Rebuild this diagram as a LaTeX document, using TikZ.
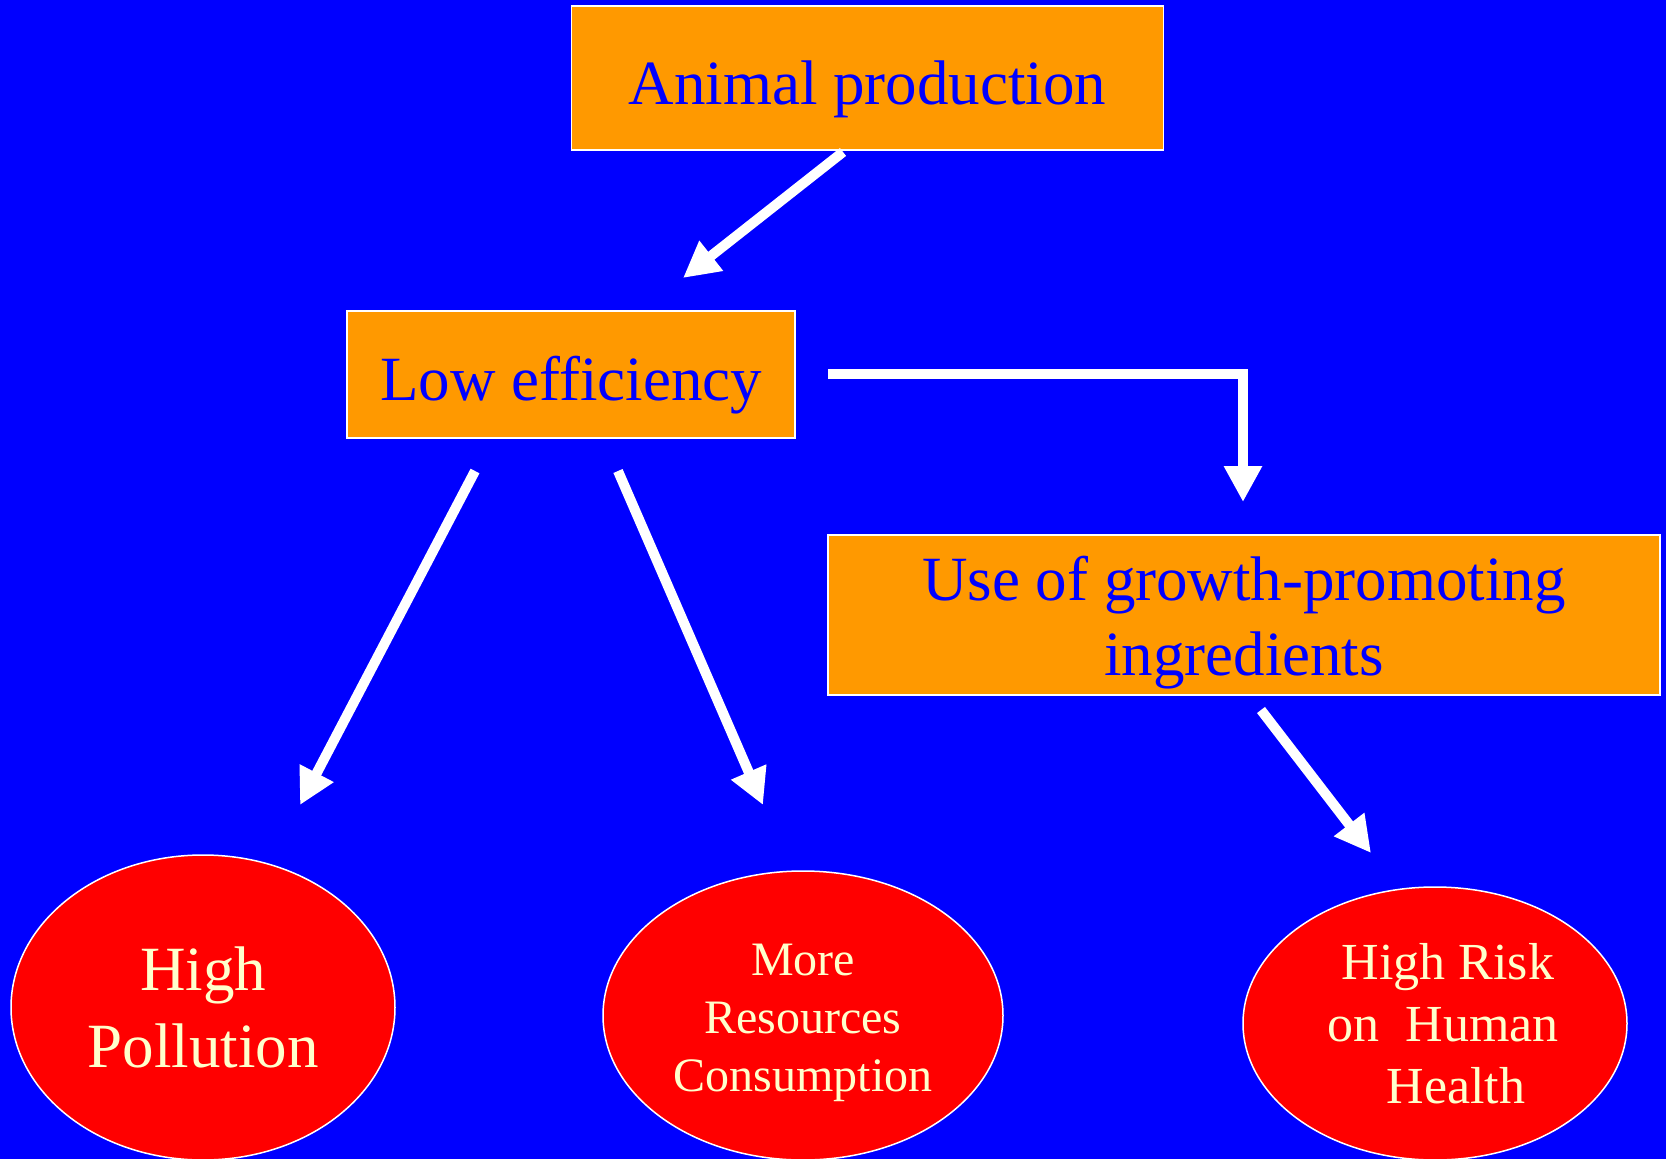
\documentclass[tikz,border=0pt]{standalone}
\usepackage{fontspec}
\setmainfont{Liberation Serif}
\usetikzlibrary{arrows.meta,shapes.geometric}
\definecolor{bg}{RGB}{0,0,255}
\definecolor{boxorange}{RGB}{255,153,0}
\definecolor{ovalred}{RGB}{255,0,0}
\definecolor{cream}{RGB}{255,255,204}
\begin{document}
\begin{tikzpicture}[x=1pt,y=-1pt,
  box/.style={draw=white, line width=1.5pt, fill=boxorange, text=bg,
    font=\fontsize{63}{75}\selectfont, inner sep=0pt, align=center},
  oval/.style={ellipse, draw=white, line width=1.5pt, fill=ovalred, text=cream,
    inner sep=0pt, align=center},
  arr/.style={draw=white, line width=10pt, -{Triangle[length=36pt,width=36pt]}}]
\fill[bg] (0,0) rectangle (1666,1159);
\useasboundingbox (0,0) rectangle (1666,1159);

% boxes
\node[box, minimum width=592pt, minimum height=144pt, text height=52pt, text depth=0pt]
  (ap) at (867.5,78) {Animal production};
\node[box, minimum width=448pt, minimum height=127pt, text height=52pt, text depth=0pt]
  (le) at (571,374.5) {Low efficiency};
\node[box, minimum width=832pt, minimum height=160pt]
  (ug) at (1244,615) {\rule{0pt}{59pt}Use of growth-promoting\\ingredients};

% ovals
\node[oval, minimum width=384pt, minimum height=305pt, font=\fontsize{63}{77}\selectfont]
  (hp) at (203,1007.5) {High\\Pollution};
\node[oval, minimum width=400pt, minimum height=289pt, font=\fontsize{48}{58}\selectfont]
  (mr) at (803,1015.5) {\rule{0pt}{46pt}More\\Resources\\Consumption};
\node[oval, minimum width=384pt, minimum height=273pt, font=\fontsize{52}{62}\selectfont]
  (hr) at (1435,1023.5) {\hspace*{26pt}High Risk\\\hspace*{16pt}on\ \ Human\\\hspace*{42pt}Health};

% arrow end points
\coordinate (a1s) at (843,152);
\coordinate (a1e) at (683,278);
\coordinate (a2s) at (828,374);
\coordinate (a2e) at (1243,502);
\coordinate (a3s) at (475,471);
\coordinate (a3e) at (300,805);
\coordinate (a4s) at (618,471);
\coordinate (a4e) at (763,805);
\coordinate (a5s) at (1261,710);
\coordinate (a5e) at (1371,853);

\draw[arr] (a1s) -- (a1e);
\draw[arr] (a2s) -| (a2e);
\draw[arr] (a3s) -- (a3e);
\draw[arr] (a4s) -- (a4e);
\draw[arr] (a5s) -- (a5e);
\end{tikzpicture}
\end{document}
